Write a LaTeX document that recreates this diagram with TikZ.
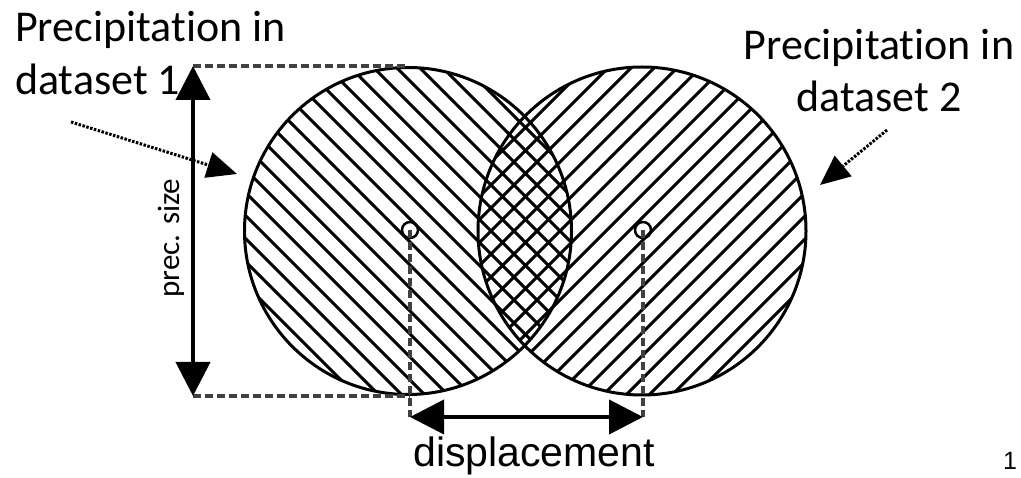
\documentclass[tikz,border=0pt]{standalone}
\usepackage{fontspec}
\setmainfont{Carlito}[Ligatures=NoCommon]
\newfontfamily\arialfont{Liberation Sans}
\usetikzlibrary{arrows.meta}
\tikzset{
  bigarrow/.style={line width=4pt,{Triangle[length=34pt,width=34pt]}-{Triangle[length=34pt,width=34pt]}},
  guide/.style={draw=black!75,line width=3.5pt,dash pattern=on 8pt off 4pt},
  pointer/.style={line width=3pt,dash pattern=on 2.5pt off 1.5pt,-{Triangle[length=30pt,width=26pt]}},
  hatch/.style={line width=3pt},
  rim/.style={line width=3pt},
  ctr/.style={circle,draw,line width=2.5pt,minimum size=16pt,inner sep=0pt},
  label/.style={inner sep=0pt,font=\fontsize{44}{53}\selectfont}
}
\begin{document}
\begin{tikzpicture}[x=1pt,y=-1pt]
  \useasboundingbox (0,0) rectangle (1021,478);
  % Centres
  \coordinate (c1) at (408,231);
  \coordinate (c2) at (642,231);
  % Hatching, dataset 1
  \begin{scope}
    \clip (c1) circle[radius=163.5pt];
    \foreach \k in {-62,-39,...,420}
      \draw[hatch] (\k,0) -- (\k+478,478);
  \end{scope}
  % Hatching, dataset 2
  \begin{scope}
    \clip (c2) circle[radius=164pt];
    \foreach \k in {630,653,...,1120}
      \draw[hatch] (\k,0) -- (\k-478,478);
  \end{scope}
  \draw[rim] (c1) circle[radius=163.5pt];
  \draw[rim] (c2) circle[radius=164pt];
  % Size of dataset 1
  \coordinate (tl) at (193,66);
  \coordinate (bl) at (193,396);
  \coordinate (tc) at (408,66);
  \coordinate (bc) at (410,396);
  \draw[guide] (tl) -- (tc);
  \draw[guide] (bl) -- (bc);
  \draw[bigarrow] (tl) -- (bl);
  \node[rotate=90,inner sep=0pt,font=\fontsize{31}{36}\selectfont] (size) at (171,238) {prec. size};
  % Displacement
  \node[ctr] (m1) at (410,230) {};
  \node[ctr] (m2) at (643,230) {};
  \coordinate (d1) at (410,417);
  \coordinate (d2) at (643,417);
  \draw[guide] (m1.center) -- (d1);
  \draw[guide] (m2.center) -- (d2);
  \draw[bigarrow] (d1) -- (d2);
  \node[anchor=base,inner sep=0pt,font=\arialfont\fontsize{41}{50}\selectfont] (disp) at (534,467) {displacement};
  % Labels
  \node[label,anchor=base west] (t1a) at (15,42) {Precipitation in};
  \node[label,anchor=base west] (t1b) at (15,95) {dataset 1};
  \node[label,anchor=base] (t2a) at (879,60) {Precipitation in};
  \node[label,anchor=base] (t2b) at (879,112) {dataset 2};
  \coordinate (p1) at (71,122);
  \coordinate (q1) at (237,174);
  \coordinate (p2) at (887,130);
  \coordinate (q2) at (820,185);
  \draw[pointer] (p1) -- (q1);
  \draw[pointer] (p2) -- (q2);
  \node[anchor=base,inner sep=0pt,font=\arialfont\fontsize{25}{30}\selectfont] (num) at (1010,470) {1};
\end{tikzpicture}
\end{document}
